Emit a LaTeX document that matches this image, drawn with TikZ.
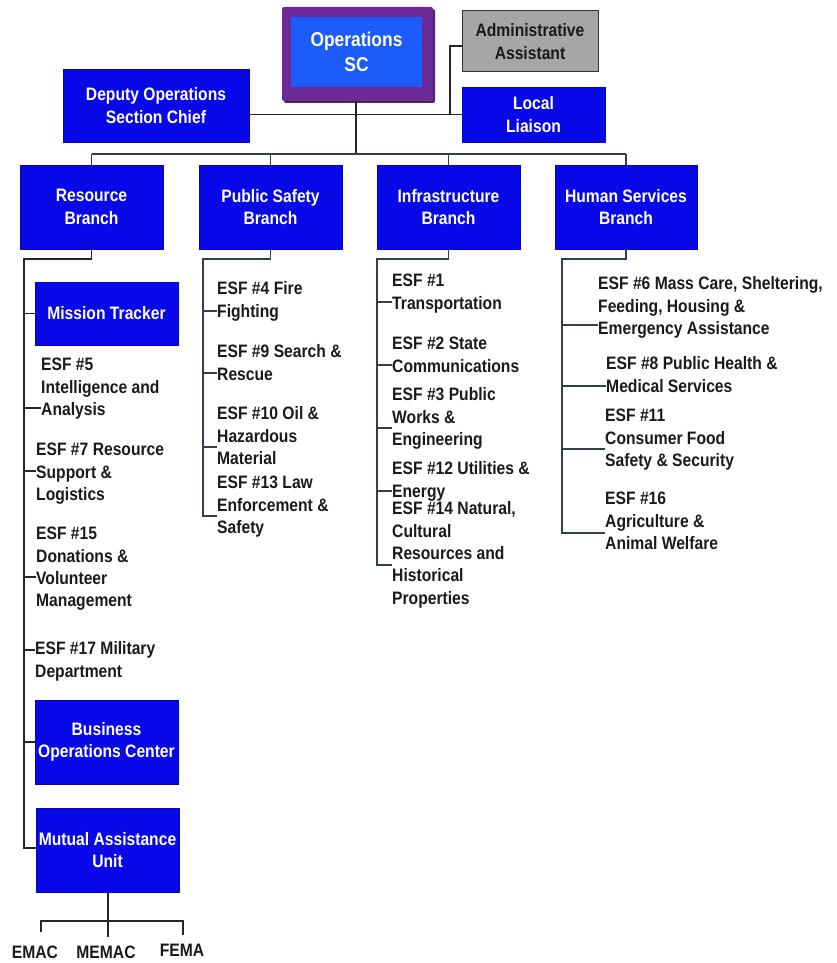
\documentclass[tikz,border=0pt]{standalone}
\usepackage{fontspec}
\newfontfamily\nb{Liberation Sans}[FakeStretch=0.87]
\definecolor{boxblue}{RGB}{8,8,232}
\definecolor{opsblue}{RGB}{28,92,250}
\definecolor{opspurple}{RGB}{108,42,150}
\definecolor{admgray}{RGB}{166,166,166}
\definecolor{linecol}{RGB}{52,62,78}
\definecolor{txtcol}{RGB}{26,26,26}
\newcommand{\fs}{\nb\bfseries\fontsize{18}{22.4}\selectfont}
\newcommand{\fst}{\rule{0pt}{14pt}}
\tikzset{
  bluebox/.style={draw=boxblue!80!black, line width=0.8pt, fill=boxblue, text=white, font=\fs, align=center, inner sep=0pt},
  esftext/.style={anchor=north west, align=left, inner sep=0pt, text=txtcol, font=\fs},
  conn/.style={draw=linecol, line width=1.2pt},
  connk/.style={draw=black!85, line width=1.2pt},
}
\begin{document}
\begin{tikzpicture}[x=1pt,y=-1pt]
\useasboundingbox (0,0) rectangle (837,963);
% top level
\node[fill=opspurple!75!black, rounded corners=2pt, minimum width=151pt, minimum height=94pt] (opsshadow) at (359.5,56) {};
\node[fill=opspurple, rounded corners=2pt, minimum width=151pt, minimum height=94pt] (opsouter) at (357.5,54) {};
\node[fill=opsblue, text=white, font=\nb\bfseries\fontsize{20}{25}\selectfont, align=center, minimum width=131pt, minimum height=70pt, inner sep=0pt] (ops) at (356.5,52) {Operations\\SC};
\node[draw=black!80, line width=1pt, fill=admgray, text=txtcol, font=\fs, align=center, minimum width=136pt, minimum height=61pt, inner sep=0pt] (adm) at (530,41.5) {Administrative\\Assistant};
\node[bluebox, minimum width=143pt, minimum height=55pt] (liaison) at (533.5,114.5) {Local\\Liaison};
\node[bluebox, minimum width=186pt, minimum height=73pt] (deputy) at (156,105.5) {Deputy Operations\\Section Chief};
% branches
\node[bluebox, minimum width=143pt, minimum height=84pt] (resb) at (91.5,207) {Resource\\Branch};
\node[bluebox, minimum width=143pt, minimum height=84pt] (psb) at (270.5,207) {Public Safety\\Branch};
\node[bluebox, minimum width=143pt, minimum height=84pt] (infb) at (448.5,207) {Infrastructure\\Branch};
\node[bluebox, minimum width=142pt, minimum height=84pt] (hsb) at (626,207) {Human Services\\Branch};
% top connectors
\coordinate (bus) at (356,154);
\coordinate (admcorner) at (450,46);
\draw[connk] (deputy.east |- liaison.west) -- (liaison.west);
\draw[connk] (adm.west |- admcorner) -- (admcorner) -- (admcorner |- liaison.west);
\draw[connk] (opsouter.south -| bus) -- (bus);
\draw[conn] (resb.north |- bus) -- (hsb.north |- bus);
\draw[conn] (resb.north |- bus) -- (resb.north);
\draw[conn] (psb.north |- bus) -- (psb.north);
\draw[conn] (infb.north |- bus) -- (infb.north);
\draw[conn] (hsb.north |- bus) -- (hsb.north);
% Resource column
\node[bluebox, minimum width=143pt, minimum height=63pt] (mt) at (106.5,313.5) {Mission Tracker};
\node[esftext] (esf5) at (41,356.5) {\fst ESF \#5\\Intelligence and\\Analysis};
\node[esftext] (esf7) at (36,441.5) {\fst ESF \#7 Resource\\Support \&\\Logistics};
\node[esftext] (esf15) at (36,525.5) {\fst ESF \#15\\Donations \&\\Volunteer\\Management};
\node[esftext] (esf17) at (35,640.5) {\fst ESF \#17 Military\\Department};
\node[bluebox, minimum width=143pt, minimum height=84pt] (boc) at (106.5,742) {Business\\Operations Center};
\node[bluebox, minimum width=143pt, minimum height=84pt] (mau) at (107.5,850) {Mutual Assistance\\Unit};
\coordinate (rtop) at (24,259);
\coordinate (rend) at (24,848);
\draw[connk] (resb.south) -- (resb.south |- rtop) -- (rtop) -- (rend) -- (mau.west |- rend);
\draw[connk] (rtop |- mt.west) -- (mt.west);
\draw[connk] (rtop |- 0,408) -- (esf5.west |- 0,408);
\draw[connk] (rtop |- 0,471) -- (esf7.west |- 0,471);
\draw[connk] (rtop |- 0,577) -- (esf15.west |- 0,577);
\draw[connk] (rtop |- 0,650) -- (esf17.west |- 0,650);
\draw[connk] (rtop |- boc.west) -- (boc.west);
% bottom
\node[text=txtcol, font=\fs, inner sep=0pt] (emac) at (35,952) {EMAC};
\node[text=txtcol, font=\fs, inner sep=0pt] (memac) at (106,952) {MEMAC};
\node[text=txtcol, font=\fs, inner sep=0pt] (fema) at (182,950) {FEMA};
\coordinate (mbus) at (108,921);
\draw[connk] (mau.south -| mbus) -- (mbus |- 0,937);
\draw[connk] (41,932) -- (41,921) -- (183,921) -- (183,935);
% Public safety column
\node[esftext] (esf4) at (217,280.5) {\fst ESF \#4 Fire\\Fighting};
\node[esftext] (esf9) at (217,343.5) {\fst ESF \#9 Search \&\\Rescue};
\node[esftext] (esf10) at (217,405.5) {\fst ESF \#10 Oil \&\\Hazardous\\Material};
\node[esftext] (esf13) at (217,474.5) {\fst ESF \#13 Law\\Enforcement \&\\Safety};
\coordinate (ptop) at (203,259);
\coordinate (pend) at (203,516);
\draw[conn] (psb.south) -- (psb.south |- ptop) -- (ptop) -- (pend) -- (esf13.west |- pend);
\draw[conn] (ptop |- 0,311) -- (esf4.west |- 0,311);
\draw[conn] (ptop |- 0,373) -- (esf9.west |- 0,373);
\draw[conn] (ptop |- 0,447) -- (esf10.west |- 0,447);
% Infrastructure column
\node[esftext] (esf1) at (392,272.5) {\fst ESF \#1\\Transportation};
\node[esftext] (esf2) at (392,335.5) {\fst ESF \#2 State\\Communications};
\node[esftext] (esf3) at (392,386.5) {\fst ESF \#3 Public\\Works \&\\Engineering};
\node[esftext] (esf12) at (392,460.5) {\fst ESF \#12 Utilities \&\\Energy};
\node[esftext] (esf14) at (392,500.5) {\fst ESF \#14 Natural,\\Cultural\\Resources and\\Historical\\Properties};
\coordinate (itop) at (377,259);
\coordinate (iend) at (377,565);
\draw[conn] (infb.south) -- (infb.south |- itop) -- (itop) -- (iend) -- (esf14.west |- iend);
\draw[conn] (itop |- 0,302) -- (esf1.west |- 0,302);
\draw[conn] (itop |- 0,365) -- (esf2.west |- 0,365);
\draw[conn] (itop |- 0,428) -- (esf3.west |- 0,428);
\draw[conn] (itop |- 0,491) -- (esf12.west |- 0,491);
% Human services column
\node[esftext] (esf6) at (598,275.5) {\fst ESF \#6 Mass Care, Sheltering,\\Feeding, Housing \&\\Emergency Assistance};
\node[esftext] (esf8) at (606,355.5) {\fst ESF \#8 Public Health \&\\Medical Services};
\node[esftext] (esf11) at (605,407.5) {\fst ESF \#11\\Consumer Food\\Safety \& Security};
\node[esftext] (esf16) at (605,490.5) {\fst ESF \#16\\Agriculture \&\\Animal Welfare};
\coordinate (htop) at (562,259);
\coordinate (hend) at (562,533);
\draw[conn] (hsb.south) -- (hsb.south |- htop) -- (htop) -- (hend) -- (esf16.west |- hend);
\draw[conn] (htop |- 0,325) -- (esf6.west |- 0,325);
\draw[conn] (htop |- 0,386) -- (esf8.west |- 0,386);
\draw[conn] (htop |- 0,449) -- (esf11.west |- 0,449);
\end{tikzpicture}
\end{document}
